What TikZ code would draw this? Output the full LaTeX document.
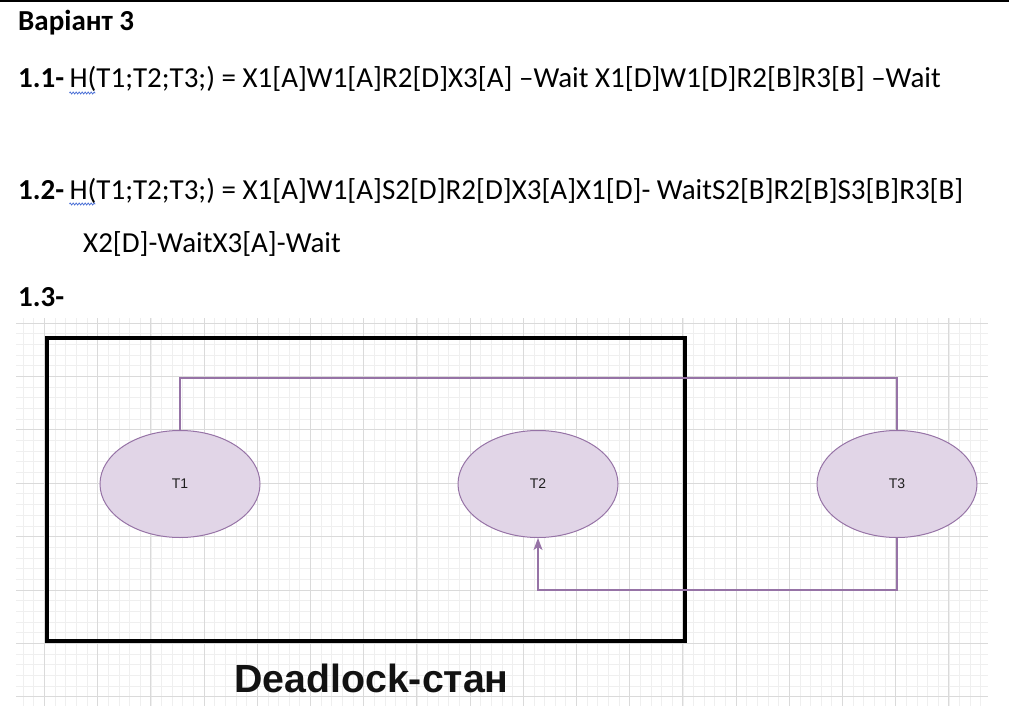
\documentclass[tikz,border=0pt]{standalone}
\usepackage{fontspec}
\setmainfont{Carlito}
\newfontfamily\arialfont{Liberation Sans}
\usetikzlibrary{shapes.geometric,arrows.meta,decorations.pathmorphing}
\definecolor{procfill}{HTML}{E1D5E7}
\definecolor{procdraw}{HTML}{9673A6}
\definecolor{gridminor}{HTML}{EFEFEF}
\definecolor{gridmajor}{HTML}{DADADA}
\definecolor{spellblue}{HTML}{4A6FD6}
\tikzset{
  doctext/.style={anchor=base west, inner sep=0pt, font=\fontsize{29}{34}\selectfont, text=black},
  dochead/.style={doctext, font=\fontsize{29}{34}\selectfont\bfseries},
  proc/.style={ellipse, draw=procdraw, fill=procfill, line width=1pt, minimum width=160pt, minimum height=107pt, inner sep=0pt, font=\arialfont\fontsize{14}{16}\selectfont, text=black!88},
  conn/.style={draw=procdraw, line width=1.3pt},
  frame/.style={draw=black, line width=3.5pt, minimum width=638pt, minimum height=303pt, inner sep=0pt},
  gminor/.style={draw=gridminor, line width=0.8pt},
  gmajor/.style={draw=gridmajor, line width=0.9pt},
  wavy/.style={draw=spellblue, line width=0.7pt, decorate, decoration={zigzag, segment length=3pt, amplitude=1.1pt}}
}
\begin{document}
\begin{tikzpicture}[x=1pt,y=-1pt]
\useasboundingbox (0,0) rectangle (1009,706);
\fill[white] (0,0) rectangle (1009,706);
\fill[black] (0,0) rectangle (1009,2.5);
% grid
\begin{scope}
\clip (16,318) rectangle (988,706);
\foreach \i in {-3,...,90}{
  \pgfmathsetmacro\xx{44.5+10.64*\i}
  \draw[gminor] (\xx,318) -- (\xx,706);
}
\foreach \j in {-1,...,37}{
  \pgfmathsetmacro\yy{323+10.68*\j}
  \draw[gminor] (16,\yy) -- (988,\yy);
}
\foreach \i in {0,...,18}{
  \pgfmathsetmacro\xx{44.5+53.2*\i}
  \draw[gmajor] (\xx,318) -- (\xx,706);
}
\foreach \j in {0,...,7}{
  \pgfmathsetmacro\yy{323+53.4*\j}
  \draw[gmajor] (16,\yy) -- (988,\yy);
}
\end{scope}
% text
\node[dochead] (title) at (18,31) {Варіант 3};
\node[dochead] (n11) at (18,88) {1.1-};
\node[doctext, anchor=base west] (l11) at ([xshift=5pt]n11.base east) {H(T1;T2;T3;) = X1[A]W1[A]R2[D]X3[A] –Wait X1[D]W1[D]R2[B]R3[B] –Wait};
\node[dochead] (n12) at (18,199) {1.2-};
\node[doctext, anchor=base west] (l12) at ([xshift=5pt]n12.base east) {H(T1;T2;T3;) = X1[A]W1[A]S2[D]R2[D]X3[A]X1[D]- WaitS2[B]R2[B]S3[B]R3[B]};
\node[doctext] (l12b) at (83,252) {X2[D]-WaitX3[A]-Wait};
\node[dochead] (n13) at (18,306) {1.3-};
\path[wavy] ([yshift=-5pt]l11.base west) -- ++(26,0);
\path[wavy] ([yshift=-5pt]l12.base west) -- ++(26,0);
% diagram
\node[frame] (box) at (366,489.5) {};
\node[proc] (t1) at (180,484) {T1};
\node[proc] (t2) at (538,484) {T2};
\node[proc] (t3) at (897,484) {T3};
\coordinate (c1) at (180,378);
\coordinate (c2) at (897,590);
\draw[conn] (t1.north) -- (c1) -| (t3.north);
\draw[conn, -{Stealth[length=12pt,width=9pt,inset=3pt]}] (t3.south) -- (c2) -| (t2.south);
\node[anchor=base west, inner sep=0pt, font=\arialfont\fontsize{39.3}{46}\selectfont\bfseries, text=black!93] (cap) at (234,692) {Deadlock-стан};
\end{tikzpicture}
\end{document}
